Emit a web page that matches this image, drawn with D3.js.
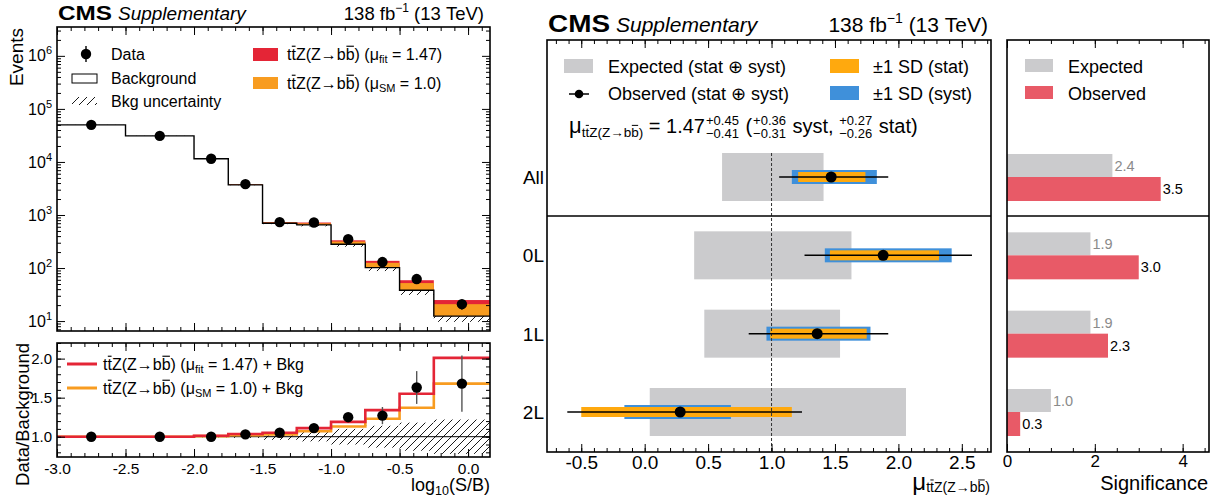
<!DOCTYPE html>
<html>
<head>
<meta charset="utf-8">
<script src="https://cdn.jsdelivr.net/npm/d3@7"></script>
<style>
  body { margin: 0; background: #fff; }
  svg text { fill: #000; }
</style>
</head>
<body>
<script>
// ---- data ----
// left: log10(S/B) histogram
const binEdges = [-3.0, -2.5, -2.0, -1.75, -1.5, -1.25, -1.0, -0.75, -0.5, -0.25, 0.16];
const bkgYield = [50000, 31000, 11500, 3700, 700, 650, 280, 102, 38, 12.4];
const dataRatio = [1.0, 1.0, 1.0, 1.03, 1.05, 1.11, 1.25, 1.27, 1.63, 1.68];
const dataRatioErr = [0.005, 0.006, 0.01, 0.017, 0.037, 0.037, 0.055, 0.11, 0.21, 0.36];
const ratioFit = [1.0, 1.0, 1.013, 1.035, 1.05, 1.11, 1.19, 1.34, 1.55, 2.01];
const ratioSM = [1.0, 1.0, 1.007, 1.02, 1.03, 1.07, 1.13, 1.23, 1.37, 1.68];
const bkgUnc = [0.003, 0.004, 0.008, 0.015, 0.04, 0.06, 0.10, 0.14, 0.18, 0.22];

// middle: signal strength per category
const cats = ['All', '0L', '1L', '2L'];
const muObs = [1.47, 1.88, 1.36, 0.28];
const totDn = [0.41, 0.62, 0.54, 0.89], totUp = [0.45, 0.70, 0.56, 0.96];
const systDn = [0.31, 0.46, 0.40, 0.44], systUp = [0.36, 0.54, 0.42, 0.40];
const statDn = [0.26, 0.42, 0.37, 0.78], statUp = [0.27, 0.44, 0.39, 0.88];
const expDn = [0.39, 0.61, 0.53, 0.96], expUp = [0.41, 0.63, 0.54, 1.06];

// right: significance
const sigExp = [2.4, 1.9, 1.9, 1.0];
const sigObs = [3.5, 3.0, 2.3, 0.3];

const RED = '#e42536', ORANGE = '#f89c20';
const GRAY = '#cbcbcd', BLUE = '#3f90da', ORANGE2 = '#ffa90e', RED2 = '#e85a67';

const svg = d3.select('body').append('svg')
  .attr('width', 1222).attr('height', 499)
  .style('font-family', '"Liberation Sans", Arial, Helvetica, sans-serif');

const defs = svg.append('defs');
defs.append('pattern').attr('id', 'hatch').attr('patternUnits', 'userSpaceOnUse')
  .attr('width', 8).attr('height', 8)
  .append('path').attr('d', 'M-1,1 l2,-2 M0,8 l8,-8 M7,9 l2,-2')
  .attr('stroke', '#000').attr('stroke-width', 0.9);

// rich text: list of parts laid out left to right, measured at runtime
function rich(parent, x, y, parts, anchor) {
  const g = parent.append('g');
  let cx = 0;
  parts.forEach(p => {
    if (p.sup !== undefined) {
      const a = g.append('text').attr('x', cx).attr('y', p.supY).attr('font-size', p.fs).text(p.sup);
      const b = g.append('text').attr('x', cx).attr('y', p.subY).attr('font-size', p.fs).text(p.sub);
      cx += Math.max(a.node().getComputedTextLength(), b.node().getComputedTextLength()) + 1;
    } else {
      const dy = p.dy || 0;
      const t = g.append('text').attr('x', cx).attr('y', dy).attr('font-size', p.fs)
        .text(p.t.replace(/ /g, '\u00a0'));
      if (p.fill) t.style('fill', p.fill);
      if (p.italic) t.attr('font-style', 'italic');
      if (p.bold) t.attr('font-weight', 'bold');
      if (p.len) t.attr('textLength', p.len).attr('lengthAdjust', 'spacingAndGlyphs');
      const w = p.len || t.node().getComputedTextLength();
      if (p.ov) {
        g.append('line').attr('x1', cx + w * 0.08).attr('x2', cx + w * 0.92)
          .attr('y1', dy - p.fs * 0.86).attr('y2', dy - p.fs * 0.86)
          .attr('stroke', '#000').attr('stroke-width', Math.max(1, p.fs / 14));
      }
      cx += w + (p.gap || 0);
    }
  });
  const shift = anchor === 'end' ? -cx : anchor === 'middle' ? -cx / 2 : 0;
  g.attr('transform', `translate(${x + shift},${y})`);
  return g;
}
function ttZ(fs, dy) {
  dy = dy || 0;
  return [{t: 't', fs, dy}, {t: 't', fs, dy, ov: true}, {t: 'Z(Z', fs, dy},
          {t: '\u2192', fs, dy}, {t: 'b', fs, dy}, {t: 'b', fs, dy, ov: true}, {t: ')', fs, dy}];
}

// axes with inward ticks on both sides
function xTicks(scale, majors, minors, yTop, yBot, fmt, fs, pad) {
  const g = svg.append('g');
  g.append('g').attr('transform', `translate(0,${yBot})`)
    .call(d3.axisBottom(scale).tickValues(minors).tickSize(-4).tickFormat(''));
  const lab = g.append('g').attr('transform', `translate(0,${yBot})`)
    .call(d3.axisBottom(scale).tickValues(majors).tickSize(-8).tickPadding(pad || 4).tickFormat(fmt || ''));
  g.append('g').attr('transform', `translate(0,${yTop})`)
    .call(d3.axisTop(scale).tickValues(minors).tickSize(-4).tickFormat(''));
  g.append('g').attr('transform', `translate(0,${yTop})`)
    .call(d3.axisTop(scale).tickValues(majors).tickSize(-8).tickFormat(''));
  g.selectAll('.domain').remove();
  g.selectAll('g').attr('font-family', null).attr('font-size', fs || 16);
  g.selectAll('line').attr('stroke', '#000').attr('stroke-width', 1);
  return lab;
}
function yTicks(scale, majors, minors, xL, xR, fmt, fs, pad) {
  const g = svg.append('g');
  g.append('g').attr('transform', `translate(${xL},0)`)
    .call(d3.axisLeft(scale).tickValues(minors).tickSize(-4).tickFormat(''));
  const lab = g.append('g').attr('transform', `translate(${xL},0)`)
    .call(d3.axisLeft(scale).tickValues(majors).tickSize(-8).tickPadding(pad || 4).tickFormat(fmt || ''));
  g.append('g').attr('transform', `translate(${xR},0)`)
    .call(d3.axisRight(scale).tickValues(minors).tickSize(-4).tickFormat(''));
  g.append('g').attr('transform', `translate(${xR},0)`)
    .call(d3.axisRight(scale).tickValues(majors).tickSize(-8).tickFormat(''));
  g.selectAll('.domain').remove();
  g.selectAll('g').attr('font-family', null).attr('font-size', fs || 16);
  g.selectAll('line').attr('stroke', '#000').attr('stroke-width', 1);
  return lab;
}
function frame(x0, y0, x1, y1) {
  svg.append('rect').attr('x', x0).attr('y', y0).attr('width', x1 - x0).attr('height', y1 - y0)
    .attr('fill', 'none').attr('stroke', '#000').attr('stroke-width', 1.6);
}
function clip(id, x0, y0, x1, y1) {
  defs.append('clipPath').attr('id', id).append('rect')
    .attr('x', x0).attr('y', y0).attr('width', x1 - x0).attr('height', y1 - y0);
}
const rng = (a, b, s) => d3.range(Math.round(a / s), Math.round(b / s) + 1).map(i => +(i * s).toFixed(3));

// =============== LEFT PANEL =================
const L = {x0: 57, x1: 490, y0: 27, y1: 331, ry0: 343, ry1: 457};
const x = d3.scaleLinear([-3.0, 0.16], [L.x0, L.x1]);
const y = d3.scaleLog([6.5, 3.5e6], [L.y1, L.y0]);
const yr = d3.scaleLinear([0.74, 2.2], [L.ry1, L.ry0]);
const bins = bkgYield.map((b, i) => ({
  lo: binEdges[i], hi: binEdges[i + 1], c: (binEdges[i] + binEdges[i + 1]) / 2, b,
  r: dataRatio[i], re: dataRatioErr[i], fit: ratioFit[i], sm: ratioSM[i], u: bkgUnc[i]
}));
clip('cTop', L.x0, L.y0, L.x1, L.y1);
clip('cRat', L.x0, L.ry0, L.x1, L.ry1);

const histG = svg.append('g').attr('clip-path', 'url(#cTop)');
histG.selectAll('.hat').data(bins).enter().append('rect')
  .attr('x', d => x(d.lo)).attr('width', d => x(d.hi) - x(d.lo))
  .attr('y', d => y(d.b * (1 + d.u))).attr('height', d => y(d.b * (1 - d.u)) - y(d.b * (1 + d.u)))
  .attr('fill', 'url(#hatch)');
histG.selectAll('.fit').data(bins).enter().append('rect')
  .attr('x', d => x(d.lo)).attr('width', d => x(d.hi) - x(d.lo))
  .attr('y', d => y(d.b * d.fit)).attr('height', d => y(d.b) - y(d.b * d.fit))
  .attr('fill', RED);
histG.selectAll('.sm').data(bins).enter().append('rect')
  .attr('x', d => x(d.lo)).attr('width', d => x(d.hi) - x(d.lo))
  .attr('y', d => y(d.b * d.sm)).attr('height', d => y(d.b) - y(d.b * d.sm))
  .attr('fill', ORANGE);
const stepPts = (f) => bins.map(d => [d.lo, f(d)]).concat([[binEdges[binEdges.length - 1], f(bins[bins.length - 1])]]);
histG.append('path')
  .attr('d', d3.line().curve(d3.curveStepAfter).x(p => x(p[0])).y(p => y(p[1]))(stepPts(d => d.b)))
  .attr('fill', 'none').attr('stroke', '#000').attr('stroke-width', 1.4);
histG.selectAll('.err').data(bins).enter().append('line')
  .attr('x1', d => x(d.c)).attr('x2', d => x(d.c))
  .attr('y1', d => y(d.b * (d.r + d.re))).attr('y2', d => y(d.b * (d.r - d.re)))
  .attr('stroke', '#000').attr('stroke-width', 1.4);
histG.selectAll('.pt').data(bins).enter().append('circle')
  .attr('cx', d => x(d.c)).attr('cy', d => y(d.b * d.r)).attr('r', 5.2).attr('fill', '#000');

// ratio panel
const ratG = svg.append('g').attr('clip-path', 'url(#cRat)');
ratG.selectAll('.hat').data(bins).enter().append('rect')
  .attr('x', d => x(d.lo)).attr('width', d => x(d.hi) - x(d.lo))
  .attr('y', d => yr(1 + d.u)).attr('height', d => yr(1 - d.u) - yr(1 + d.u))
  .attr('fill', 'url(#hatch)');
ratG.append('line').attr('x1', L.x0).attr('x2', L.x1).attr('y1', yr(1)).attr('y2', yr(1))
  .attr('stroke', '#000').attr('stroke-width', 1);
const rline = d3.line().curve(d3.curveStepAfter).x(p => x(p[0])).y(p => yr(p[1]));
ratG.append('path').attr('d', rline(stepPts(d => d.sm)))
  .attr('fill', 'none').attr('stroke', ORANGE).attr('stroke-width', 2.6);
ratG.append('path').attr('d', rline(stepPts(d => d.fit)))
  .attr('fill', 'none').attr('stroke', RED).attr('stroke-width', 2.6);
ratG.selectAll('.err').data(bins).enter().append('line')
  .attr('x1', d => x(d.c)).attr('x2', d => x(d.c))
  .attr('y1', d => yr(d.r + d.re)).attr('y2', d => yr(d.r - d.re))
  .attr('stroke', '#555').attr('stroke-width', 1.4);
ratG.selectAll('.pt').data(bins).enter().append('circle')
  .attr('cx', d => x(d.c)).attr('cy', d => yr(d.r)).attr('r', 5.2).attr('fill', '#000');

// left axes
xTicks(x, rng(-3, 0, 0.5), rng(-3, 0.1, 0.1), L.y0, L.y1, null, 16);
xTicks(x, rng(-3, 0, 0.5), rng(-3, 0.1, 0.1), L.ry0, L.ry1, d => d.toFixed(1), 15.5, 6);
const logMinor = [];
for (let e = 0; e <= 6; e++) for (let k = 2; k <= 9; k++) { const v = k * Math.pow(10, e); if (v > 6.5 && v < 3.5e6) logMinor.push(v); }
const ylab = yTicks(y, [10, 100, 1e3, 1e4, 1e5, 1e6], logMinor, L.x0, L.x1, () => '', 16, 5);
ylab.selectAll('.tick text').each(function(d) {
  const t = d3.select(this);
  t.append('tspan').text('10');
  t.append('tspan').attr('font-size', 11).attr('dy', -7).text(Math.round(Math.log10(d)));
});
yTicks(yr, [1.0, 1.5, 2.0], rng(0.8, 2.2, 0.1), L.x0, L.x1, d => d.toFixed(1), 15, 5);
frame(L.x0, L.y0, L.x1, L.y1);
frame(L.x0, L.ry0, L.x1, L.ry1);

// left labels
svg.append('text').attr('transform', 'translate(23,28) rotate(-90)').attr('text-anchor', 'end')
  .attr('font-size', 19).text('Events');
svg.append('text').attr('transform', 'translate(29,343) rotate(-90)').attr('text-anchor', 'end')
  .attr('font-size', 18.5).text('Data/Background');
rich(svg, 490, 491, [{t: 'log', fs: 18}, {t: '10', fs: 12.5, dy: 4}, {t: '(S/B)', fs: 18}], 'end');
rich(svg, 58, 20, [{t: 'CMS', fs: 20, bold: true, len: 54, gap: 6}, {t: 'Supplementary', fs: 19, italic: true}]);
rich(svg, 484, 20, [{t: '138 fb', fs: 18.5}, {t: '\u22121', fs: 12, dy: -8}, {t: ' (13 TeV)', fs: 18.5}], 'end');

// left legend (top)
svg.append('line').attr('x1', 86).attr('x2', 86).attr('y1', 46).attr('y2', 62).attr('stroke', '#000').attr('stroke-width', 1.4);
svg.append('circle').attr('cx', 86).attr('cy', 54).attr('r', 5.2).attr('fill', '#000');
svg.append('text').attr('x', 111).attr('y', 60).attr('font-size', 16).text('Data');
svg.append('rect').attr('x', 72).attr('y', 74).attr('width', 25).attr('height', 9)
  .attr('fill', 'none').attr('stroke', '#000').attr('stroke-width', 1);
svg.append('text').attr('x', 111).attr('y', 84).attr('font-size', 16).text('Background');
svg.append('rect').attr('x', 72).attr('y', 97).attr('width', 25).attr('height', 8).attr('fill', 'url(#hatch)');
svg.append('text').attr('x', 111).attr('y', 107).attr('font-size', 16).text('Bkg uncertainty');
svg.append('rect').attr('x', 253).attr('y', 48).attr('width', 25).attr('height', 13).attr('fill', RED);
rich(svg, 287, 60, ttZ(16).concat([{t: ' (\u03bc', fs: 16}, {t: 'fit', fs: 11, dy: 3}, {t: ' = 1.47)', fs: 16}]));
svg.append('rect').attr('x', 253).attr('y', 77).attr('width', 25).attr('height', 12).attr('fill', ORANGE);
rich(svg, 287, 89, ttZ(16).concat([{t: ' (\u03bc', fs: 16}, {t: 'SM', fs: 11, dy: 3}, {t: ' = 1.0)', fs: 16}]));

// ratio legend
svg.append('line').attr('x1', 67).attr('x2', 97).attr('y1', 364).attr('y2', 364).attr('stroke', RED).attr('stroke-width', 3);
rich(svg, 103, 370, ttZ(16).concat([{t: ' (\u03bc', fs: 16}, {t: 'fit', fs: 11, dy: 3}, {t: ' = 1.47) + Bkg', fs: 16}]));
svg.append('line').attr('x1', 67).attr('x2', 97).attr('y1', 388).attr('y2', 388).attr('stroke', ORANGE).attr('stroke-width', 3);
rich(svg, 103, 394, ttZ(16).concat([{t: ' (\u03bc', fs: 16}, {t: 'SM', fs: 11, dy: 3}, {t: ' = 1.0) + Bkg', fs: 16}]));

// =============== MIDDLE PANEL =================
const M = {x0: 547, x1: 991, y0: 40, y1: 452, sep: 216};
const xm = d3.scaleLinear([-0.77, 2.73], [M.x0, M.x1]);
const row = d3.scalePoint(cats, [177, 412]);
const mu = cats.map((c, i) => ({c, m: muObs[i], tD: totDn[i], tU: totUp[i], sD: systDn[i], sU: systUp[i],
  stD: statDn[i], stU: statUp[i], eD: expDn[i], eU: expUp[i], se: sigExp[i], so: sigObs[i]}));
const midG = svg.append('g');
midG.selectAll('.exp').data(mu).enter().append('rect')
  .attr('x', d => xm(1 - d.eD)).attr('width', d => xm(1 + d.eU) - xm(1 - d.eD))
  .attr('y', d => row(d.c) - 24).attr('height', 48).attr('fill', GRAY);
midG.selectAll('.syst').data(mu).enter().append('rect')
  .attr('x', d => xm(d.m - d.sD)).attr('width', d => xm(d.m + d.sU) - xm(d.m - d.sD))
  .attr('y', d => row(d.c) - 7).attr('height', 14).attr('fill', BLUE);
midG.selectAll('.stat').data(mu).enter().append('rect')
  .attr('x', d => xm(d.m - d.stD)).attr('width', d => xm(d.m + d.stU) - xm(d.m - d.stD))
  .attr('y', d => row(d.c) - 5).attr('height', 10).attr('fill', ORANGE2);
midG.append('line').attr('x1', xm(1)).attr('x2', xm(1)).attr('y1', 153).attr('y2', M.y1)
  .attr('stroke', '#333').attr('stroke-width', 1).attr('stroke-dasharray', '3,2');
midG.selectAll('.tot').data(mu).enter().append('line')
  .attr('x1', d => xm(d.m - d.tD)).attr('x2', d => xm(d.m + d.tU))
  .attr('y1', d => row(d.c)).attr('y2', d => row(d.c)).attr('stroke', '#000').attr('stroke-width', 1.5);
midG.selectAll('.pt').data(mu).enter().append('circle')
  .attr('cx', d => xm(d.m)).attr('cy', d => row(d.c)).attr('r', 5.5).attr('fill', '#000');
midG.selectAll('.cat').data(mu).enter().append('text')
  .attr('x', 544).attr('y', d => row(d.c) + 7).attr('text-anchor', 'end').attr('font-size', 19).text(d => d.c);
midG.append('line').attr('x1', M.x0).attr('x2', M.x1).attr('y1', M.sep).attr('y2', M.sep)
  .attr('stroke', '#000').attr('stroke-width', 1.4);
xTicks(xm, rng(-0.5, 2.5, 0.5), rng(-0.7, 2.7, 0.1), M.y0, M.y1, d => d.toFixed(1), 19, 3);
frame(M.x0, M.y0, M.x1, M.y1);

rich(svg, 548, 32, [{t: 'CMS', fs: 24, bold: true, len: 62, gap: 6}, {t: 'Supplementary', fs: 21, italic: true}]);
rich(svg, 988, 32, [{t: '138 fb', fs: 21}, {t: '\u22121', fs: 14, dy: -9}, {t: ' (13 TeV)', fs: 21}], 'end');
rich(svg, 990, 490, [{t: '\u03bc', fs: 24}].concat(ttZ(14, 2)), 'end');

// middle legend
svg.append('rect').attr('x', 564).attr('y', 59).attr('width', 29).attr('height', 14).attr('fill', GRAY);
svg.append('text').attr('x', 608).attr('y', 73).attr('font-size', 18).text('Expected (stat \u2295 syst)');
svg.append('line').attr('x1', 569).attr('x2', 589).attr('y1', 94).attr('y2', 94).attr('stroke', '#000').attr('stroke-width', 1.5);
svg.append('circle').attr('cx', 579).attr('cy', 94).attr('r', 4.3).attr('fill', '#000');
svg.append('text').attr('x', 608).attr('y', 100).attr('font-size', 18).text('Observed (stat \u2295 syst)');
svg.append('rect').attr('x', 830).attr('y', 59).attr('width', 29).attr('height', 14).attr('fill', ORANGE2);
svg.append('text').attr('x', 873).attr('y', 73).attr('font-size', 18).text('\u00b11 SD (stat)');
svg.append('rect').attr('x', 830).attr('y', 86).attr('width', 29).attr('height', 14).attr('fill', BLUE);
svg.append('text').attr('x', 873).attr('y', 100).attr('font-size', 18).text('\u00b11 SD (syst)');
rich(svg, 569, 133, [{t: '\u03bc', fs: 22}].concat(ttZ(13.5, 4)).concat([
  {t: ' = 1.47', fs: 20, gap: 1},
  {sup: '+0.45', sub: '\u22120.41', fs: 13, supY: -8, subY: 5},
  {t: ' (', fs: 20, gap: 1},
  {sup: '+0.36', sub: '\u22120.31', fs: 13, supY: -8, subY: 5},
  {t: ' syst, ', fs: 20},
  {sup: '+0.27', sub: '\u22120.26', fs: 13, supY: -8, subY: 5},
  {t: ' stat)', fs: 20}
]));

// =============== RIGHT PANEL =================
const R = {x0: 1007, x1: 1209, y0: 40, y1: 452};
const xs = d3.scaleLinear([0, 4.6], [R.x0, R.x1]);
const sigG = svg.append('g');
sigG.selectAll('.se').data(mu).enter().append('rect')
  .attr('x', xs(0)).attr('width', d => xs(d.se) - xs(0))
  .attr('y', d => row(d.c) - 23).attr('height', 23).attr('fill', GRAY);
sigG.selectAll('.so').data(mu).enter().append('rect')
  .attr('x', xs(0)).attr('width', d => xs(d.so) - xs(0))
  .attr('y', d => row(d.c)).attr('height', 24).attr('fill', RED2);
sigG.selectAll('.sel').data(mu).enter().append('text')
  .attr('x', d => xs(d.se) + 2).attr('y', d => row(d.c) - 6).attr('font-size', 14.5)
  .style('fill', '#8a8a8a').text(d => d.se.toFixed(1));
sigG.selectAll('.sol').data(mu).enter().append('text')
  .attr('x', d => xs(d.so) + 2).attr('y', d => row(d.c) + 17).attr('font-size', 14.5)
  .text(d => d.so.toFixed(1));
sigG.append('line').attr('x1', R.x0).attr('x2', R.x1).attr('y1', M.sep).attr('y2', M.sep)
  .attr('stroke', '#000').attr('stroke-width', 1.4);
xTicks(xs, [0, 2, 4], rng(0, 4.5, 0.5), R.y0, R.y1, d => d, 17, 3);
frame(R.x0, R.y0, R.x1, R.y1);
svg.append('text').attr('x', 1208).attr('y', 490).attr('text-anchor', 'end').attr('font-size', 20).text('Significance');
svg.append('rect').attr('x', 1025).attr('y', 59).attr('width', 28).attr('height', 13).attr('fill', GRAY);
svg.append('text').attr('x', 1068).attr('y', 72.5).attr('font-size', 18).text('Expected');
svg.append('rect').attr('x', 1025).attr('y', 86).attr('width', 28).attr('height', 13).attr('fill', RED2);
svg.append('text').attr('x', 1068).attr('y', 99.5).attr('font-size', 18).text('Observed');
</script>
</body>
</html>
